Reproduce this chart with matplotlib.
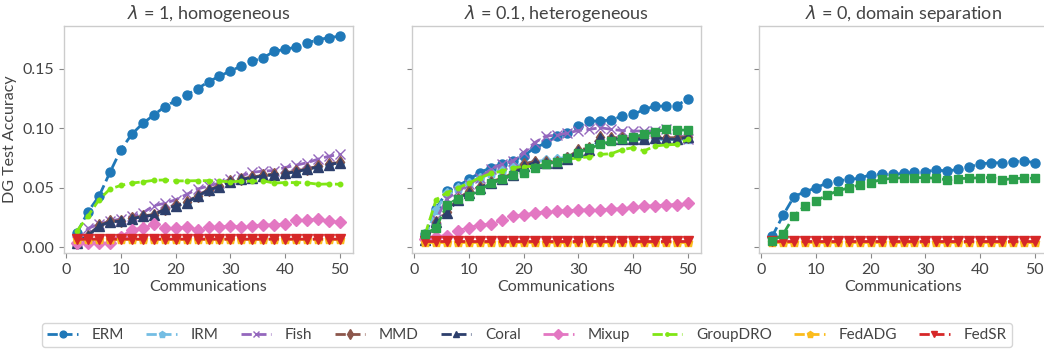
import matplotlib
matplotlib.use('Agg')
import matplotlib.pyplot as plt

plt.rcParams['font.family'] = ['Lato', 'DejaVu Sans']

# communication rounds
rounds = list(range(2, 51, 2))

# ---- lambda = 1, homogeneous ----
h_erm = [0.0125, 0.030, 0.043, 0.063, 0.082, 0.095, 0.104, 0.111, 0.118, 0.123, 0.128, 0.133, 0.139,
         0.1435, 0.148, 0.152, 0.156, 0.159, 0.1645, 0.166, 0.168, 0.1715, 0.174, 0.176, 0.177]
h_irm = [0.004, 0.010, 0.018, 0.0215, 0.022, 0.024, 0.026, 0.027, 0.032, 0.035, 0.0375, 0.043, 0.048,
         0.051, 0.055, 0.057, 0.0585, 0.060, 0.061, 0.062, 0.0635, 0.0655, 0.0675, 0.0695, 0.071]
h_fish = [0.005, 0.016, 0.0195, 0.022, 0.024, 0.026, 0.029, 0.035, 0.037, 0.040, 0.0445, 0.049, 0.0515,
          0.054, 0.057, 0.060, 0.063, 0.064, 0.0645, 0.067, 0.069, 0.071, 0.074, 0.0765, 0.078]
h_mmd = [0.004, 0.010, 0.0185, 0.022, 0.0225, 0.0245, 0.0265, 0.0275, 0.0325, 0.0355, 0.038, 0.0435, 0.0485,
         0.0515, 0.0555, 0.0575, 0.059, 0.0605, 0.0615, 0.0625, 0.064, 0.066, 0.068, 0.070, 0.0715]
h_coral = [0.004, 0.010, 0.018, 0.0215, 0.022, 0.024, 0.026, 0.027, 0.032, 0.035, 0.0375, 0.043, 0.048,
           0.051, 0.055, 0.057, 0.0585, 0.060, 0.061, 0.062, 0.0635, 0.0655, 0.0675, 0.0695, 0.071]
h_mixup = [0.004, 0.004, 0.004, 0.004, 0.0085, 0.015, 0.016, 0.0195, 0.016, 0.016, 0.017, 0.015, 0.017,
           0.017, 0.018, 0.017, 0.018, 0.019, 0.0188, 0.0195, 0.023, 0.023, 0.0237, 0.022, 0.021]
h_groupdro = [0.014, 0.0265, 0.040, 0.049, 0.052, 0.054, 0.055, 0.0563, 0.0566, 0.0558, 0.0558, 0.056, 0.056,
              0.0556, 0.055, 0.0556, 0.0556, 0.0558, 0.054, 0.0544, 0.0544, 0.0542, 0.053, 0.0532, 0.053]
h_fedadg = [0.007] * 25
h_fedsr = [0.0068, 0.007, 0.007, 0.007, 0.007, 0.007, 0.007, 0.007, 0.007, 0.007, 0.007, 0.007, 0.007,
           0.007, 0.007, 0.007, 0.007, 0.007, 0.007, 0.007, 0.007, 0.007, 0.007, 0.007, 0.007]

# ---- lambda = 0.1, heterogeneous ----
t_erm = [0.011, 0.0326, 0.047, 0.0516, 0.057, 0.0627, 0.067, 0.0697, 0.0725, 0.0767, 0.0836, 0.0873, 0.0934,
         0.096, 0.1018, 0.106, 0.106, 0.107, 0.110, 0.1115, 0.1157, 0.1185, 0.1185, 0.119, 0.1246]
t_irm = [0.009, 0.031, 0.046, 0.050, 0.054, 0.058, 0.062, 0.065, 0.068, 0.070, 0.072, 0.073, 0.074,
         0.076, 0.080, 0.083, 0.090, 0.090, 0.091, 0.090, 0.091, 0.091, 0.090, 0.0905, 0.091]
t_fish = [0.006, 0.0237, 0.041, 0.047, 0.053, 0.0585, 0.0655, 0.0697, 0.0725, 0.0795, 0.0878, 0.0934, 0.094,
          0.096, 0.098, 0.099, 0.1004, 0.099, 0.098, 0.0976, 0.0976, 0.0976, 0.099, 0.0948, 0.091]
t_mmd = [0.006, 0.021, 0.030, 0.041, 0.047, 0.051, 0.055, 0.058, 0.062, 0.070, 0.072, 0.072, 0.072,
         0.075, 0.082, 0.083, 0.093, 0.092, 0.092, 0.091, 0.092, 0.093, 0.092, 0.092, 0.093]
t_coral = [0.006, 0.021, 0.029, 0.040, 0.046, 0.050, 0.054, 0.057, 0.061, 0.068, 0.071, 0.071, 0.071,
           0.074, 0.081, 0.082, 0.092, 0.091, 0.091, 0.0906, 0.091, 0.092, 0.091, 0.0906, 0.0925]
t_mixup = [0.007, 0.009, 0.010, 0.014, 0.0167, 0.0187, 0.0195, 0.023, 0.026, 0.0273, 0.0287, 0.030, 0.0307,
           0.0307, 0.0315, 0.0315, 0.0315, 0.032, 0.0326, 0.0335, 0.0348, 0.0348, 0.0357, 0.036, 0.037]
t_groupdro = [0.011, 0.040, 0.046, 0.050, 0.054, 0.0585, 0.062, 0.064, 0.067, 0.0677, 0.068, 0.0697, 0.071,
              0.074, 0.075, 0.076, 0.078, 0.0786, 0.082, 0.0836, 0.081, 0.085, 0.086, 0.0864, 0.0906]
t_fedadg = [0.0045] * 25
t_fedsr = [0.005] * 25
t_other = [0.011, 0.0167, 0.0357, 0.041, 0.0432, 0.048, 0.054, 0.057, 0.061, 0.0627, 0.067, 0.0697, 0.072,
           0.075, 0.0795, 0.083, 0.0864, 0.089, 0.091, 0.0925, 0.0948, 0.0967, 0.099, 0.0984, 0.0984]

# ---- lambda = 0, domain separation ----
d_erm = [0.0092, 0.027, 0.0427, 0.0466, 0.050, 0.054, 0.0558, 0.057, 0.058, 0.061, 0.0613, 0.0613, 0.062,
         0.063, 0.0636, 0.065, 0.064, 0.0655, 0.0675, 0.070, 0.071, 0.071, 0.072, 0.0725, 0.071]
d_other = [0.005, 0.011, 0.0265, 0.035, 0.039, 0.0438, 0.0474, 0.050, 0.0524, 0.0544, 0.057, 0.058, 0.0585,
           0.0585, 0.0585, 0.058, 0.0566, 0.0577, 0.058, 0.0585, 0.0585, 0.0566, 0.0577, 0.058, 0.058]
d_fedadg = [0.0045] * 25
d_fedsr = [0.005] * 25

titles = [r'$\lambda$ = 1, homogeneous', r'$\lambda$ = 0.1, heterogeneous', r'$\lambda$ = 0, domain separation']

styles = {
    'ERM': dict(color='#1f78b8', marker='o', markersize=6.5),
    'IRM': dict(color='#74bde3', marker='p', markersize=6.5),
    'Fish': dict(color='#9467bd', marker='x', markersize=6.5),
    'MMD': dict(color='#8c564b', marker='d', markersize=6.5),
    'Coral': dict(color='#2d3f6c', marker='^', markersize=6.5),
    'Mixup': dict(color='#e377c2', marker='D', markersize=6.5),
    'GroupDRO': dict(color='#80e614', marker='.', markersize=6.5),
    'FedADG': dict(color='#fbbc1c', marker='p', markersize=6.5),
    'FedSR': dict(color='#d62728', marker='v', markersize=6.5),
}
other_style = dict(color='#2ca04c', marker='s', markersize=6)

text_col = '#444444'
spine_col = '#cccccc'

fig = plt.figure(figsize=(10.44, 3.5), dpi=100)
lefts = [64 / 1044, 412 / 1044, 759 / 1044]
axes = []
for i, l in enumerate(lefts):
    if i == 0:
        ax = fig.add_axes([l, 97 / 350, 289 / 1044, 227 / 350])
    else:
        ax = fig.add_axes([l, 97 / 350, 289 / 1044, 227 / 350], sharey=axes[0])
    axes.append(ax)

panels = [
    {'ERM': h_erm, 'IRM': h_irm, 'Fish': h_fish, 'MMD': h_mmd, 'Coral': h_coral, 'Mixup': h_mixup,
     'GroupDRO': h_groupdro, 'FedADG': h_fedadg, 'FedSR': h_fedsr},
    {'ERM': t_erm, 'IRM': t_irm, 'Fish': t_fish, 'MMD': t_mmd, 'Coral': t_coral, 'Mixup': t_mixup,
     'GroupDRO': t_groupdro, 'FedADG': t_fedadg, 'FedSR': t_fedsr},
    {'ERM': d_erm, 'FedADG': d_fedadg, 'FedSR': d_fedsr},
]
others = [None, t_other, d_other]

for i, ax in enumerate(axes):
    data = panels[i]
    for name in styles:
        if name in data:
            ax.plot(rounds, data[name], ls='--', lw=2, label=name, **styles[name])
        elif i == 2:
            ax.plot([], [], ls='--', lw=2, label=name, **styles[name])
    if others[i] is not None:
        ax.plot(rounds, others[i], ls='--', lw=2, **other_style)
    ax.set_title(titles[i], fontsize=13, color=text_col, pad=5)
    ax.set_xlabel('Communications', fontsize=11.5, color=text_col, labelpad=2.5)
    ax.set_xticks([0, 10, 20, 30, 40, 50])
    ax.tick_params(colors='#888888', labelcolor=text_col, labelsize=11.5, length=3.5, width=0.8)
    for s in ax.spines.values():
        s.set_color(spine_col)
        s.set_linewidth(1.0)
    if i > 0:
        ax.tick_params(labelleft=False)

axes[0].set_yticks([0.0, 0.05, 0.10, 0.15])
axes[0].set_yticklabels(['0.00', '0.05', '0.10', '0.15'])
axes[0].set_ylabel('DG Test Accuracy', fontsize=11.5, color=text_col, labelpad=4)

handles, labels = axes[2].get_legend_handles_labels()
leg = fig.legend(handles, labels, loc='center', bbox_to_anchor=(527 / 1044, 1 - 335 / 350), ncol=9,
                 fontsize=11, frameon=True, fancybox=True, edgecolor='#cccccc', columnspacing=1.45,
                 handlelength=2.0, handletextpad=0.9, borderpad=0.35, markerscale=0.75)
for t in leg.get_texts():
    t.set_color(text_col)

fig.savefig('out.png', dpi=100)
